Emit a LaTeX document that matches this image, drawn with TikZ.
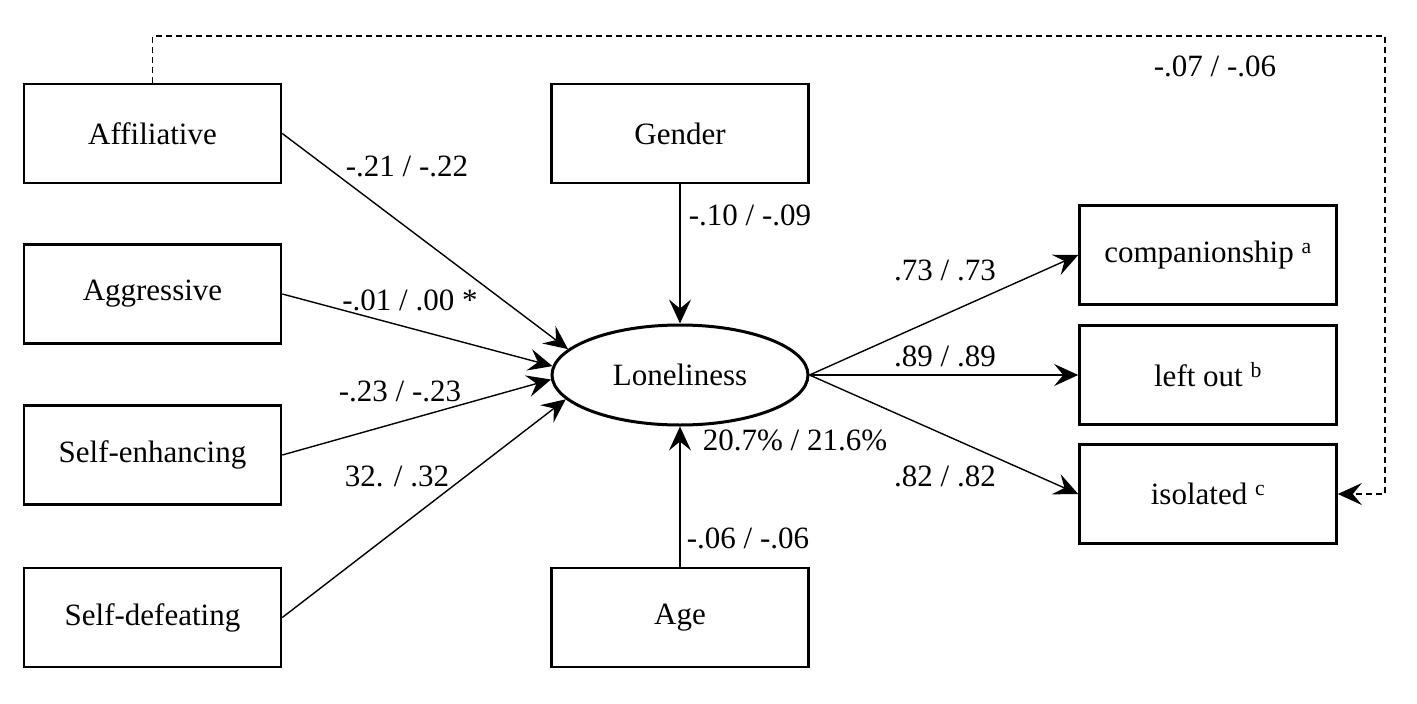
\documentclass[tikz,border=0pt]{standalone}
\usepackage{fontspec}
\setmainfont{Liberation Serif}
\usetikzlibrary{arrows.meta,shapes.geometric}
\begin{document}
\begin{tikzpicture}[x=1pt,y=-1pt,
  every node/.style={font=\fontsize{31}{37}\selectfont},
  box/.style={draw,line width=2.6pt,minimum width=257pt,minimum height=99pt,inner sep=0pt},
  lab/.style={inner sep=0pt},
  arr/.style={line width=1.4pt,-{Stealth[length=24pt,width=22pt,inset=9pt]}},
  darr/.style={line width=1.4pt,dash pattern=on 6pt off 4pt,-{Stealth[length=24pt,width=22pt,inset=9pt]}}]
\useasboundingbox (0,0) rectangle (1417,704);
\node[box] (aff) at (152.5,133.5) {Affiliative};
\node[box] (agg) at (152.5,294) {Aggressive};
\node[box] (se) at (152.5,455) {Self-enhancing};
\node[box] (sd) at (152.5,617.5) {Self-defeating};
\node[box] (gen) at (680,133.5) {Gender};
\node[box] (age) at (680,617.5) {Age};
\node[draw,ellipse,line width=3pt,minimum width=256pt,minimum height=100pt,inner sep=0pt] (lon) at (680,375) {Loneliness};
\node[box] (comp) at (1208,255) {companionship \textsuperscript{a}};
\node[box] (left) at (1208,375) {left out \textsuperscript{b}};
\node[box] (iso) at (1208,494) {isolated \textsuperscript{c}};
\draw[arr] (aff.east) -- (lon.167);
\draw[arr] (agg.east) -- (lon.176);
\draw[arr] (se.east) -- (lon.182);
\draw[arr] (sd.east) -- (lon.192);
\draw[arr] (gen.south) -- (lon.north);
\draw[arr] (age.north) -- (lon.south);
\draw[arr] (lon.east) -- (comp.west);
\draw[arr] (lon.east) -- (left.west);
\draw[arr] (lon.east) -- (iso.west);
\coordinate (c1) at (152.5,36);
\coordinate (c2) at (1385,36);
\coordinate (c3) at (1385,494);
\draw[darr] (aff.north) -- (c1) -- (c2) -- (c3) -- (iso.east);
\node[lab] (l1) at (407,166) {-.21 / -.22};
\node[lab] (l2) at (750,215) {-.10 / -.09};
\node[lab] (l3) at (410,300) {-.01 / .00 *};
\node[lab] (l4) at (400,391) {-.23 / -.23};
\node[lab] (l5) at (397,476) {32. / .32};
\node[lab] (l6) at (795,440) {20.7\% / 21.6\%};
\node[lab] (l7) at (748,538) {-.06 / -.06};
\node[lab] (l8) at (945,270) {.73 / .73};
\node[lab] (l9) at (945,356) {.89 / .89};
\node[lab] (l10) at (945,476) {.82 / .82};
\node[lab] (l11) at (1215,66) {-.07 / -.06};
\end{tikzpicture}
\end{document}
